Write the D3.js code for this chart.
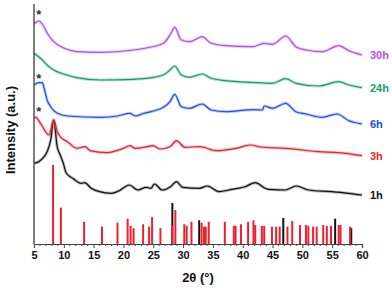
<!DOCTYPE html>
<html>
<head>
<meta charset="utf-8">
<script src="https://cdn.jsdelivr.net/npm/d3@7"></script>
<style>
  body { margin: 0; background: #fff; }
  svg { display: block; font-family: "Liberation Sans", Arial, sans-serif; }
</style>
</head>
<body>
<svg id="chart" width="392" height="288"></svg>
<script>
// XRD patterns, stacked (a.u.): [2theta, intensity]
const s1h = [[5,80.7],[5.8,82.3],[6.7,87.3],[7.2,92.3],[7.8,104],[8.3,124],[8.9,97],[9.4,89],[9.9,81],[10.4,71],[11.5,65.7],[12.9,60.7],[13.5,61.3],[14.6,55.7],[16,52.3],[18,50.7],[19.3,53.3],[21,59],[22.4,54],[23.8,56.7],[24.6,55.7],[25.2,60],[26.5,54],[27.9,57.3],[28.9,62.3],[29.9,56.7],[32.7,55.7],[34.1,58],[36,52.3],[38.2,54.7],[40.4,57.3],[42.1,61.3],[43.8,55.7],[44.3,54.7],[47.1,54],[49,58],[51,54],[54.9,52.3],[57.7,50.7],[60,49]]
const s3h = [[5,125.7],[5.3,126.7],[6.1,120.7],[7.5,109],[8.3,124],[8.9,112.3],[9.4,107.3],[10.6,102.3],[12.2,95.7],[13.6,97.3],[14.4,93.3],[17.2,91.3],[19.2,94],[20,95.7],[21.1,98.3],[21.9,95.7],[23.3,96.5],[25,98.3],[26.1,95],[27.8,97.3],[28.9,103.3],[30.3,96.7],[32.8,97.3],[35.6,93.3],[38.9,95.7],[41.3,99],[43,97],[47.2,95.7],[52.7,92.3],[56.1,91.3],[60,88.3]]
const s6h = [[5,159],[5.8,161.3],[6.4,161.3],[6.7,155.7],[7.2,144],[7.8,137.3],[8.9,130.7],[10.6,128],[16.1,126.7],[19,128],[21.1,130.7],[22,128],[23.3,130.5],[26.7,136.7],[27.8,142.3],[28.6,149.7],[29.7,137.3],[31.1,135.7],[33.2,140],[34.7,134],[37.2,132.3],[41.7,134.3],[43.3,134],[43.6,138],[45,135.7],[47.2,140.7],[48.9,132.3],[50.6,130],[53.3,126.7],[55.8,130],[57.8,123.3],[60,120]]
const s24h = [[5,190.7],[6.1,185.7],[7.2,179],[8.3,174],[10,170],[12.2,166.3],[16.1,164],[21.7,164.7],[23.3,165.3],[26.7,169],[27.8,174],[28.6,178],[29.7,169],[31.1,166.7],[33.2,170],[34.7,165.7],[37.2,163.3],[41.7,161.5],[45,160.7],[47.2,165.3],[48.9,160.7],[52.7,158],[56.1,162.3],[57.8,159],[60,156.3]]
const s30h = [[5,220],[5.8,223],[6.4,220],[7.2,211],[8.3,202.3],[10,196],[12.2,192.3],[16.1,191.7],[21.7,194],[23.3,195.5],[26.7,200.7],[27.8,209],[28.6,216.7],[29.7,204],[31.1,202.3],[33.2,207.3],[34.7,200.7],[37.2,198.3],[41.7,197.3],[43.6,200.7],[45,199.7],[47.2,208],[48.9,197.3],[50.6,194],[53.3,192.3],[56.1,198.3],[57.8,193.3],[60,189]]

const seriesNames = ["1h", "3h", "6h", "24h", "30h"]
const seriesData = [s1h, s3h, s6h, s24h, s30h]
const seriesColors = ["#111111", "#ee1f2f", "#2150ee", "#15a06e", "#b24ff0"]

// marked low-angle reflections (*) : [2theta, intensity]
const starMarks = [[5.8, 231], [5.8, 167], [5.8, 134]]

// reference stick patterns: [2theta, relative intensity %]
const redSticks = [[8.2,100],[9.5,46],[13.4,28],[16.4,22],[19,27],[20.7,32],[21.2,23],[21.7,20],[23.3,25],[24.3,22],[24.8,34],[26.2,20],[28.2,24],[28.7,43],[30.2,25],[30.6,23],[31.4,28],[33.1,27],[33.5,22],[33.8,22],[34.3,28],[37,28],[38.5,23],[38.8,23],[39.7,25],[40.9,28],[41.8,30],[42.1,24],[43.2,23],[43.6,23],[44.9,22],[45.6,22],[46.2,22],[47.5,22],[48.3,29],[49.6,24],[50.6,24],[51,23],[51.8,22],[52.4,22],[53.5,24],[54.1,23],[54.8,23],[56.1,24],[56.4,24],[58,22]]
const blackSticks = [[28.2,52],[32.7,30],[46.8,33],[55.5,32],[58.2,20]]

const xTicks = d3.range(5, 61, 5)

const svg = d3.select("#chart")
const margin = {left: 34, right: 28, top: 4, bottom: 44}
const W = 392, H = 288

const x = d3.scaleLinear().domain([5, 60]).range([margin.left, W - margin.right - 2])
const y = d3.scaleLinear().domain([0, 240]).range([H - margin.bottom, margin.top])
const yStick = d3.scaleLinear().domain([0, 100]).range([H - margin.bottom, H - margin.bottom - 79])

// sticks (black behind red)
const drawSticks = (data, color) => svg.append("g").selectAll("line")
  .data(data).enter().append("line")
    .attr("x1", d => x(d[0])).attr("x2", d => x(d[0]))
    .attr("y1", yStick(0)).attr("y2", d => yStick(d[1]))
    .attr("stroke", color).attr("stroke-width", 2)
drawSticks(blackSticks, "#111")
drawSticks(redSticks, "#ee1f2f")

const line = d3.line().x(d => x(d[0])).y(d => y(d[1])).curve(d3.curveMonotoneX)

const g = svg.append("g")
seriesData.forEach((data, i) => {
  // faint halo standing in for the noisy trace
  g.append("path").datum(data)
    .attr("d", line).attr("fill", "none")
    .attr("stroke", seriesColors[i]).attr("stroke-opacity", 0.3).attr("stroke-width", 3)
  g.append("path").datum(data)
    .attr("d", line).attr("fill", "none")
    .attr("stroke", seriesColors[i]).attr("stroke-width", 1.2)
  const last = data[data.length - 1]
  svg.append("text")
    .attr("x", x(60) + 8).attr("y", y(last[1]) + 4)
    .attr("fill", seriesColors[i])
    .attr("font-size", 11).attr("font-weight", "bold")
    .text(seriesNames[i])
})

svg.append("g").selectAll("text.star")
  .data(starMarks).enter().append("text")
    .attr("x", d => x(d[0])).attr("y", d => y(d[1]) + 6)
    .attr("text-anchor", "middle")
    .attr("font-size", 13).attr("font-weight", "bold").attr("fill", "#333")
    .text("*")

// axes
const xAxis = svg.append("g")
  .attr("transform", `translate(0,${H - margin.bottom})`)
  .call(d3.axisBottom(x).tickValues(xTicks).tickSize(4).tickPadding(3).tickFormat(d3.format("d")))
xAxis.select(".domain").attr("stroke", "#444").attr("stroke-width", 1.2)
xAxis.selectAll(".tick line").attr("stroke", "#444")
xAxis.selectAll("text").attr("font-size", 11).attr("font-weight", "bold").attr("fill", "#111")
  .attr("font-family", "Liberation Sans, Arial, sans-serif")
svg.append("g").selectAll("line")
  .data(d3.range(5, 61, 1).filter(v => v % 5)).enter().append("line")
    .attr("x1", d => x(d)).attr("x2", d => x(d))
    .attr("y1", H - margin.bottom).attr("y2", H - margin.bottom + 2)
    .attr("stroke", "#444")

svg.append("line")
  .attr("x1", margin.left).attr("x2", margin.left)
  .attr("y1", margin.top).attr("y2", H - margin.bottom)
  .attr("stroke", "#555").attr("stroke-width", 1.5)

svg.append("text")
  .attr("x", (margin.left + x(60)) / 2).attr("y", 282)
  .attr("text-anchor", "middle")
  .attr("font-size", 13).attr("font-weight", "bold").attr("fill", "#111")
  .text("2θ (°)")

svg.append("text")
  .attr("transform", `translate(15,${(margin.top + H - margin.bottom) / 2 + 6}) rotate(-90)`)
  .attr("text-anchor", "middle")
  .attr("font-size", 13).attr("font-weight", "bold").attr("fill", "#111")
  .text("Intensity (a.u.)")
</script>
</body>
</html>
